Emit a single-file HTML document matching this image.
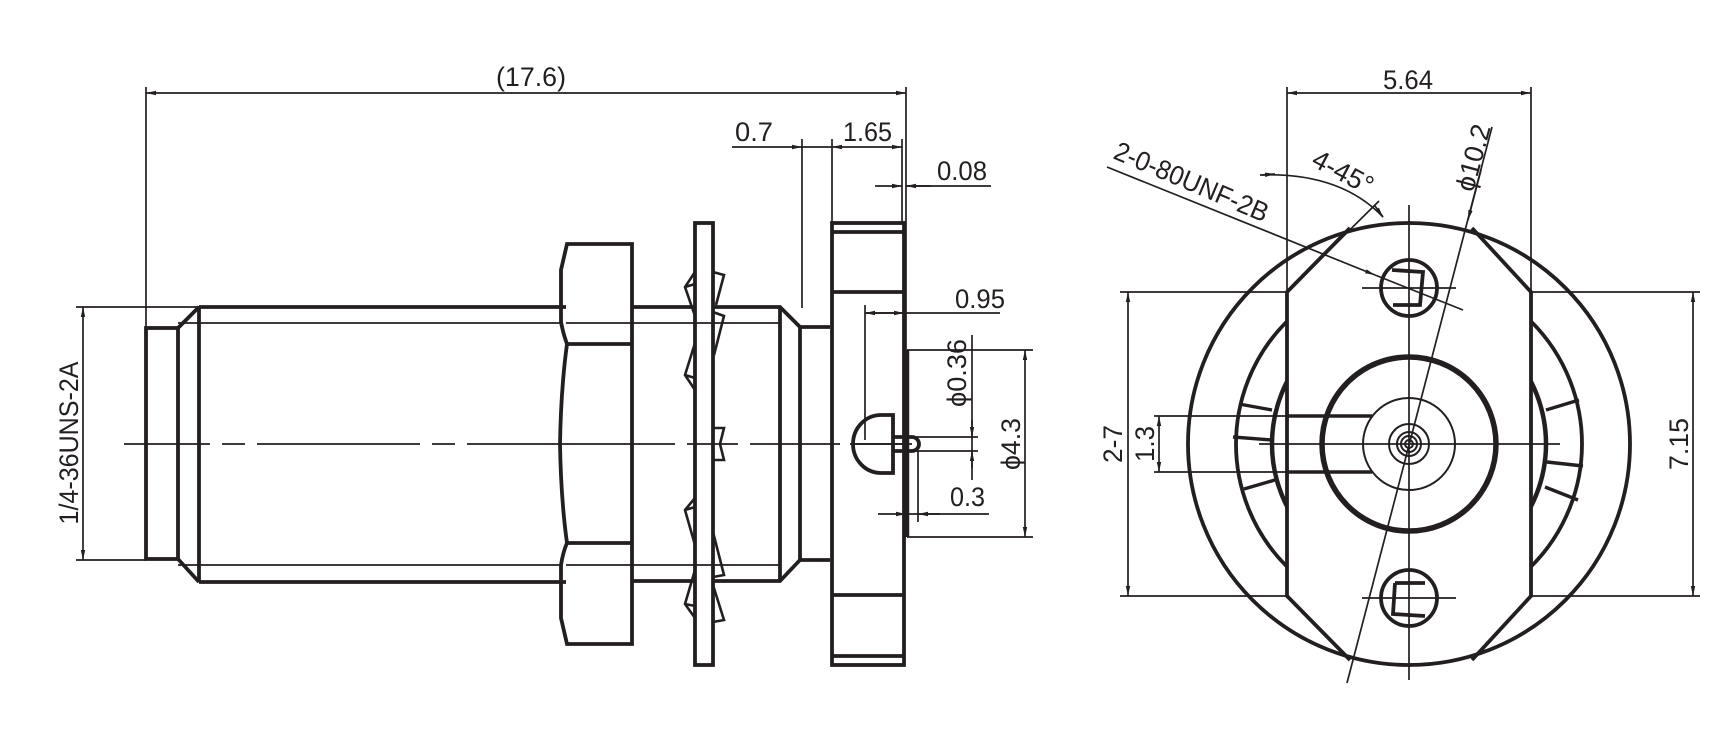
<!DOCTYPE html>
<html><head><meta charset="utf-8"><style>
html,body{margin:0;padding:0;background:#fff}
svg{display:block}
text{font-family:"Liberation Sans",sans-serif;fill:#231f20}
</style></head><body>
<svg width="1730" height="738" viewBox="0 0 1730 738" xmlns="http://www.w3.org/2000/svg">
<defs>
<marker id="a" viewBox="0 0 10 6" refX="10" refY="3" markerWidth="10" markerHeight="6" markerUnits="userSpaceOnUse" orient="auto-start-reverse"><path d="M0,0.8 L10,3 L0,5.2z" fill="#231f20"/></marker>
</defs>
<g stroke="#231f20" fill="none" stroke-linecap="butt">
<g stroke-width="3.8">
<rect x="146" y="328" width="32" height="231"/>
<path d="M178,328 L199,307 M178,559 L199,582"/>
<line x1="199" y1="307" x2="199" y2="582"/>
<path d="M199,307 L566,307 M199,582 L566,582"/>
<path d="M567,244 L632,244 L632,644 L567,644 L561,618 L561,565 Q563,552 567,543 Q561,500 560,444 Q561,388 567,344 Q563,333 561,322 L561,270 Z"/>
<path d="M567,344 L632,344 M567,543 L632,543"/>
<path d="M632,307 L780,307 L800,327 L830,327 M632,581 L780,581 L800,560 L830,560"/>
<line x1="780" y1="307" x2="780" y2="581"/>
<line x1="800" y1="327" x2="800" y2="560"/>
<rect x="695" y="223" width="18" height="442" fill="#fff"/>
<rect x="832" y="223" width="72" height="442"/>
<path d="M832,232 L904,232 M832,292 L904,292 M832,595 L904,595 M832,656 L904,656"/>
<line x1="907" y1="350" x2="907" y2="537" stroke-width="4.5"/>
<path d="M893,415 L881,415 A28,29 0 0 0 881,473 L893,473 Z"/>
<path d="M893,437 L912,437 A7,7 0 0 1 912,451 L893,451"/>
</g>
<g stroke-width="1.7">
<path d="M566,323 L780,323 M566,565 L780,565 M199,323 L561,323 M199,565 L561,565"/>
<path d="M178,323 L199,323 M178,565 L199,565"/>
<path d="M695,272 L685,287 L695,316 M685,287 L695,284" stroke-width="2.6"/>
<path d="M695,343 L685,375 L695,390 M685,375 L695,378" stroke-width="2.6"/>
<path d="M695,498 L685,510 L695,545 M685,510 L695,507" stroke-width="2.6"/>
<path d="M695,570 L685,604 L695,618 M685,604 L695,606" stroke-width="2.6"/>
<path d="M713,272 L724,275 L716,305 M713,312 L724,316 L714,355" stroke-width="2.6"/>
<path d="M713,532 L724,575 L713,577 M713,585 L724,620 L713,622" stroke-width="2.6"/>
<path d="M713,428 L724,428 L720,444 L724,460 L713,460" stroke-width="2.6"/>
<path d="M124,444 L210,444 M222,444 L245,444 M257,444 L420,444 M432,444 L455,444 M467,444 L675,444 M687,444 L738,444 M750,444 L840,444 M850,444 L912,444" />
<path d="M893,437 L978,437 M893,451 L978,451 M853,444 L905,444"/>
<path d="M76,307 L199,307 M76,560 L146,560"/>
<line x1="83" y1="307" x2="83" y2="560" marker-start="url(#a)" marker-end="url(#a)"/>
<line x1="146" y1="87" x2="146" y2="328"/>
<line x1="906" y1="87" x2="906" y2="350"/>
<line x1="146" y1="93" x2="906" y2="93" marker-start="url(#a)" marker-end="url(#a)"/>
<line x1="802" y1="139" x2="802" y2="308"/>
<line x1="832" y1="139" x2="832" y2="223"/>
<line x1="902" y1="139" x2="902" y2="223"/>
<line x1="732" y1="147" x2="802" y2="147" marker-end="url(#a)"/>
<line x1="802" y1="147" x2="832" y2="147"/>
<line x1="832" y1="147" x2="902" y2="147" marker-start="url(#a)" marker-end="url(#a)"/>
<line x1="875" y1="186" x2="902" y2="186" marker-end="url(#a)"/>
<line x1="931" y1="186" x2="906" y2="186" marker-end="url(#a)"/>
<line x1="906" y1="186" x2="991" y2="186"/>
<line x1="865" y1="305" x2="865" y2="440"/>
<line x1="865" y1="313" x2="1000" y2="313"/>
<line x1="865" y1="313" x2="893" y2="313" marker-start="url(#a)"/>
<line x1="893" y1="313" x2="904" y2="313" marker-end="url(#a)"/>
<line x1="972" y1="335" x2="972" y2="480"/>
<line x1="972" y1="420" x2="972" y2="437" marker-end="url(#a)"/>
<line x1="972" y1="468" x2="972" y2="451" marker-end="url(#a)"/>
<path d="M907,350 L1033,350 M907,537 L1033,537"/>
<line x1="1025" y1="350" x2="1025" y2="537" marker-start="url(#a)" marker-end="url(#a)"/>
<line x1="918" y1="451" x2="918" y2="522"/>
<line x1="878" y1="514" x2="906" y2="514" marker-end="url(#a)"/>
<line x1="940" y1="514" x2="918" y2="514" marker-end="url(#a)"/>
<line x1="906" y1="514" x2="989" y2="514"/>
</g>

<g stroke-width="3.8">
<circle cx="1409" cy="444" r="173"/>
<circle cx="1409" cy="444" r="137" stroke-width="4.5"/>
</g>
<g stroke-width="3.4">
<path d="M1239,404 L1272,410 M1233,437 L1272,440 M1244,489 L1275,480"/>
<path d="M1579,400 L1546,410 M1583,466 L1547,462 M1578,500 L1545,487"/>
</g>
<polygon points="1287,292 1350,228 1472,228 1531,292 1531,596 1472,660 1350,660 1287,596" fill="#fff" stroke="none"/>
<g stroke-width="3.8">
<path d="M1350,228 L1287,292 L1287,596 L1350,660 M1472,228 L1531,292 L1531,596 L1472,660"/>
<circle cx="1409" cy="444" r="221"/>
<circle cx="1409" cy="444" r="87" stroke-width="5.5"/>
<circle cx="1409" cy="288" r="28"/>
<circle cx="1409" cy="598" r="28"/>
<path d="M1392,270 L1423,272 L1420,305 L1393,305"/>
<path d="M1395,583 L1425,583 M1395,583 L1393,614 L1425,616"/>
<path d="M1287,416 L1372,416 M1287,472 L1372,472" stroke-width="3.4"/>
</g>
<g stroke-width="2">
<circle cx="1409" cy="444" r="46" fill="#fff"/>
<circle cx="1409" cy="444" r="20"/>
<circle cx="1409" cy="444" r="12"/>
<circle cx="1409" cy="444" r="8"/>
<circle cx="1409" cy="444" r="4"/>
</g>
<g stroke-width="1.7">
<line x1="1409" y1="205" x2="1409" y2="680"/>
<line x1="1259" y1="444" x2="1560" y2="444"/>
<line x1="1492" y1="127" x2="1347" y2="683"/>
<line x1="1481" y1="170" x2="1468" y2="220" marker-end="url(#a)"/>
<line x1="1287" y1="87" x2="1287" y2="292"/>
<line x1="1531" y1="87" x2="1531" y2="292"/>
<line x1="1287" y1="93" x2="1531" y2="93" marker-start="url(#a)" marker-end="url(#a)"/>
<path d="M1120,292 L1287,292 M1531,292 L1700,292 M1120,596 L1287,596 M1531,596 L1700,596 M1362,288 L1456,288 M1362,598 L1456,598"/>
<line x1="1693" y1="292" x2="1693" y2="596" marker-start="url(#a)" marker-end="url(#a)"/>
<line x1="1128" y1="292" x2="1128" y2="596" marker-start="url(#a)" marker-end="url(#a)"/>
<path d="M1154,416 L1287,416 M1154,472 L1287,472"/>
<line x1="1159" y1="416" x2="1159" y2="472" marker-start="url(#a)" marker-end="url(#a)"/>
<line x1="1107" y1="167" x2="1375" y2="275" marker-end="url(#a)"/>
<line x1="1375" y1="275" x2="1463" y2="310"/>
<line x1="1287" y1="292" x2="1379" y2="201"/>
<path d="M1260,175 Q1340,172 1383,217" />
<line x1="1262" y1="175" x2="1275" y2="174" marker-end="url(#a)"/>
<path d="M1375,206 L1383,217" marker-end="url(#a)"/>
</g>
</g>

<g font-size="27">
<text x="531" y="86" text-anchor="middle" textLength="70" lengthAdjust="spacingAndGlyphs">(17.6)</text>
<text x="735" y="141" textLength="38" lengthAdjust="spacingAndGlyphs">0.7</text>
<text x="843" y="141" textLength="49" lengthAdjust="spacingAndGlyphs">1.65</text>
<text x="937" y="180" textLength="50" lengthAdjust="spacingAndGlyphs">0.08</text>
<text x="955" y="308" textLength="50" lengthAdjust="spacingAndGlyphs">0.95</text>
<text x="950" y="506" textLength="35" lengthAdjust="spacingAndGlyphs">0.3</text>
<text transform="translate(966,373) rotate(-90)" text-anchor="middle" textLength="68" lengthAdjust="spacingAndGlyphs">ϕ0.36</text>
<text transform="translate(1020,444) rotate(-90)" text-anchor="middle" textLength="52" lengthAdjust="spacingAndGlyphs">ϕ4.3</text>
<text transform="translate(78,443) rotate(-90)" text-anchor="middle" textLength="163" lengthAdjust="spacingAndGlyphs">1/4-36UNS-2A</text>
<text x="1408" y="89" text-anchor="middle" textLength="50" lengthAdjust="spacingAndGlyphs">5.64</text>
<text transform="translate(1688,444) rotate(-90)" text-anchor="middle" textLength="52" lengthAdjust="spacingAndGlyphs">7.15</text>
<text transform="translate(1122,444) rotate(-90)" text-anchor="middle" textLength="38" lengthAdjust="spacingAndGlyphs">2-7</text>
<text transform="translate(1154,444) rotate(-90)" text-anchor="middle" textLength="36" lengthAdjust="spacingAndGlyphs">1.3</text>
<text transform="translate(1112,158) rotate(23)" textLength="165" lengthAdjust="spacingAndGlyphs">2-0-80UNF-2B</text>
<text transform="translate(1310,165) rotate(28)" textLength="65" lengthAdjust="spacingAndGlyphs">4-45°</text>
<text transform="translate(1482,160) rotate(-75)" text-anchor="middle" textLength="68" lengthAdjust="spacingAndGlyphs">ϕ10.2</text>
</g>
</svg>
</body></html>
